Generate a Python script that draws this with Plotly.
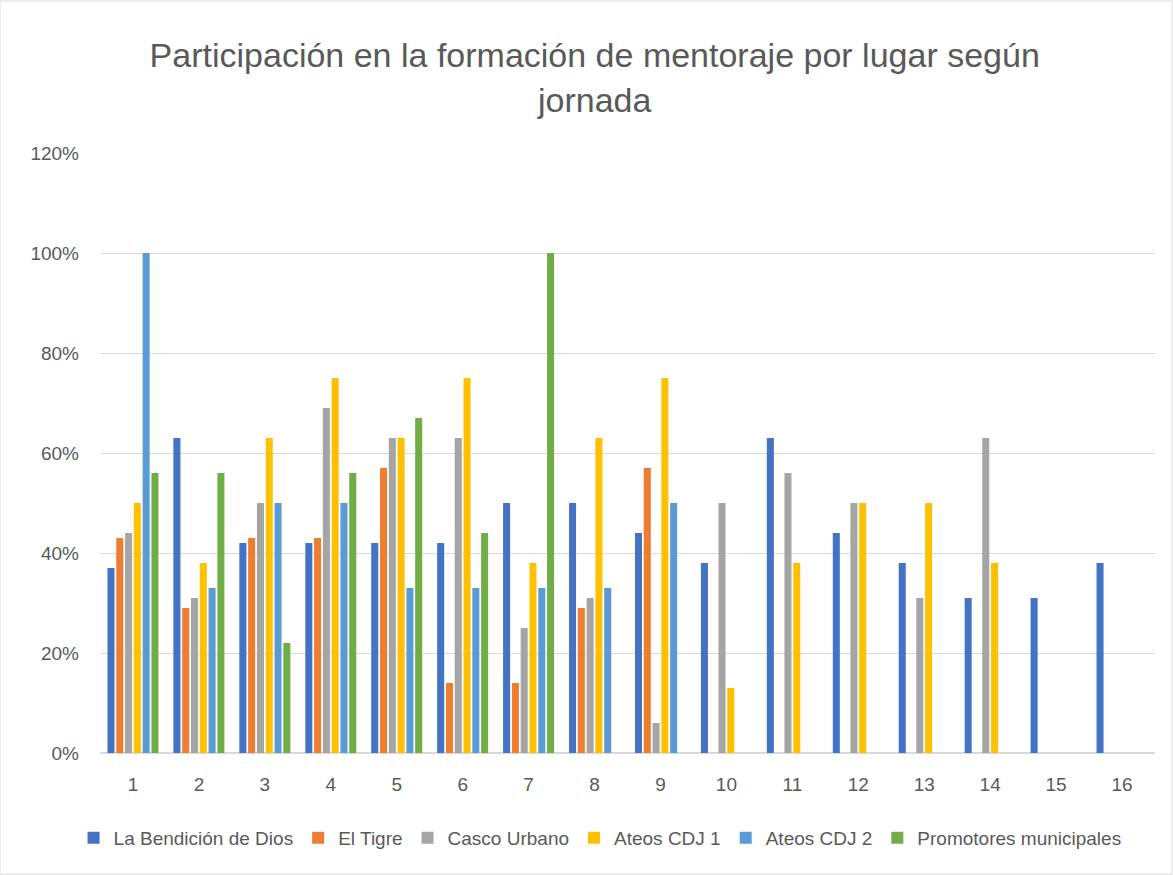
import plotly.graph_objects as go

jornadas = [str(i) for i in range(1, 17)]
la_bendicion = [37, 63, 42, 42, 42, 42, 50, 50, 44, 38, 63, 44, 38, 31, 31, 38]
el_tigre = [43, 29, 43, 43, 57, 14, 14, 29, 57, None, None, None, None, None, None, None]
casco_urbano = [44, 31, 50, 69, 63, 63, 25, 31, 6, 50, 56, 50, 31, 63, None, None]
ateos_cdj1 = [50, 38, 63, 75, 63, 75, 38, 63, 75, 13, 38, 50, 50, 38, None, None]
ateos_cdj2 = [100, 33, 50, 50, 33, 33, 33, 33, 50, None, None, None, None, None, None, None]
promotores = [56, 56, 22, 56, 67, 44, 100, None, None, None, None, None, None, None, None, None]

series = [
    ("La Bendición de Dios", la_bendicion, "#4472C4"),
    ("El Tigre", el_tigre, "#ED7D31"),
    ("Casco Urbano", casco_urbano, "#A5A5A5"),
    ("Ateos CDJ 1", ateos_cdj1, "#FFC000"),
    ("Ateos CDJ 2", ateos_cdj2, "#5B9BD5"),
    ("Promotores municipales", promotores, "#70AD47"),
]

fig = go.Figure()
for name, vals, color in series:
    fig.add_trace(go.Bar(
        x=jornadas,
        y=[v / 100 if v is not None else None for v in vals],
        name=name,
        marker=dict(color=color, line=dict(width=0)),
    ))

font_family = "Liberation Sans, Arial, sans-serif"
fig.update_layout(
    width=1173, height=875,
    paper_bgcolor="white", plot_bgcolor="white",
    margin=dict(l=100, r=18, t=153, b=122),
    barmode="group", bargap=0.2, bargroupgap=0.2,
    title=dict(
        text="Participación en la formación de mentoraje por lugar según<br>jornada",
        x=0.507, xanchor="center", y=0.923, yanchor="top",
        font=dict(family=font_family, size=34, color="#595959"),
    ),
    font=dict(family=font_family, size=19, color="#595959"),
    legend=dict(
        orientation="h", x=0.474, xanchor="center", y=-0.11, yanchor="top",
        font=dict(size=19, color="#595959"), traceorder="normal",
        itemwidth=30,
    ),
    xaxis=dict(
        type="category", showgrid=False, showline=True, linecolor="#D9D9D9",
        linewidth=1, ticks="", tickfont=dict(size=19, color="#595959"),
        ticklabelstandoff=14,
    ),
    yaxis=dict(
        range=[0, 1.2], dtick=0.2, tickformat=".0%", showgrid=True,
        gridcolor="#D9D9D9", gridwidth=1, zeroline=True, zerolinecolor="#D9D9D9",
        ticks="", tickfont=dict(size=19, color="#595959"), ticklabelstandoff=20,
    ),
    shapes=[dict(type="rect", xref="paper", yref="paper",
                 x0=-100/1055, x1=1 + 17/1055, y0=-121/600, y1=1 + 152/600,
                 line=dict(color="#D9D9D9", width=1))],
)

fig.write_html("out.html", config={"displayModeBar": False},
               post_script="document.body.style.margin='0';")
